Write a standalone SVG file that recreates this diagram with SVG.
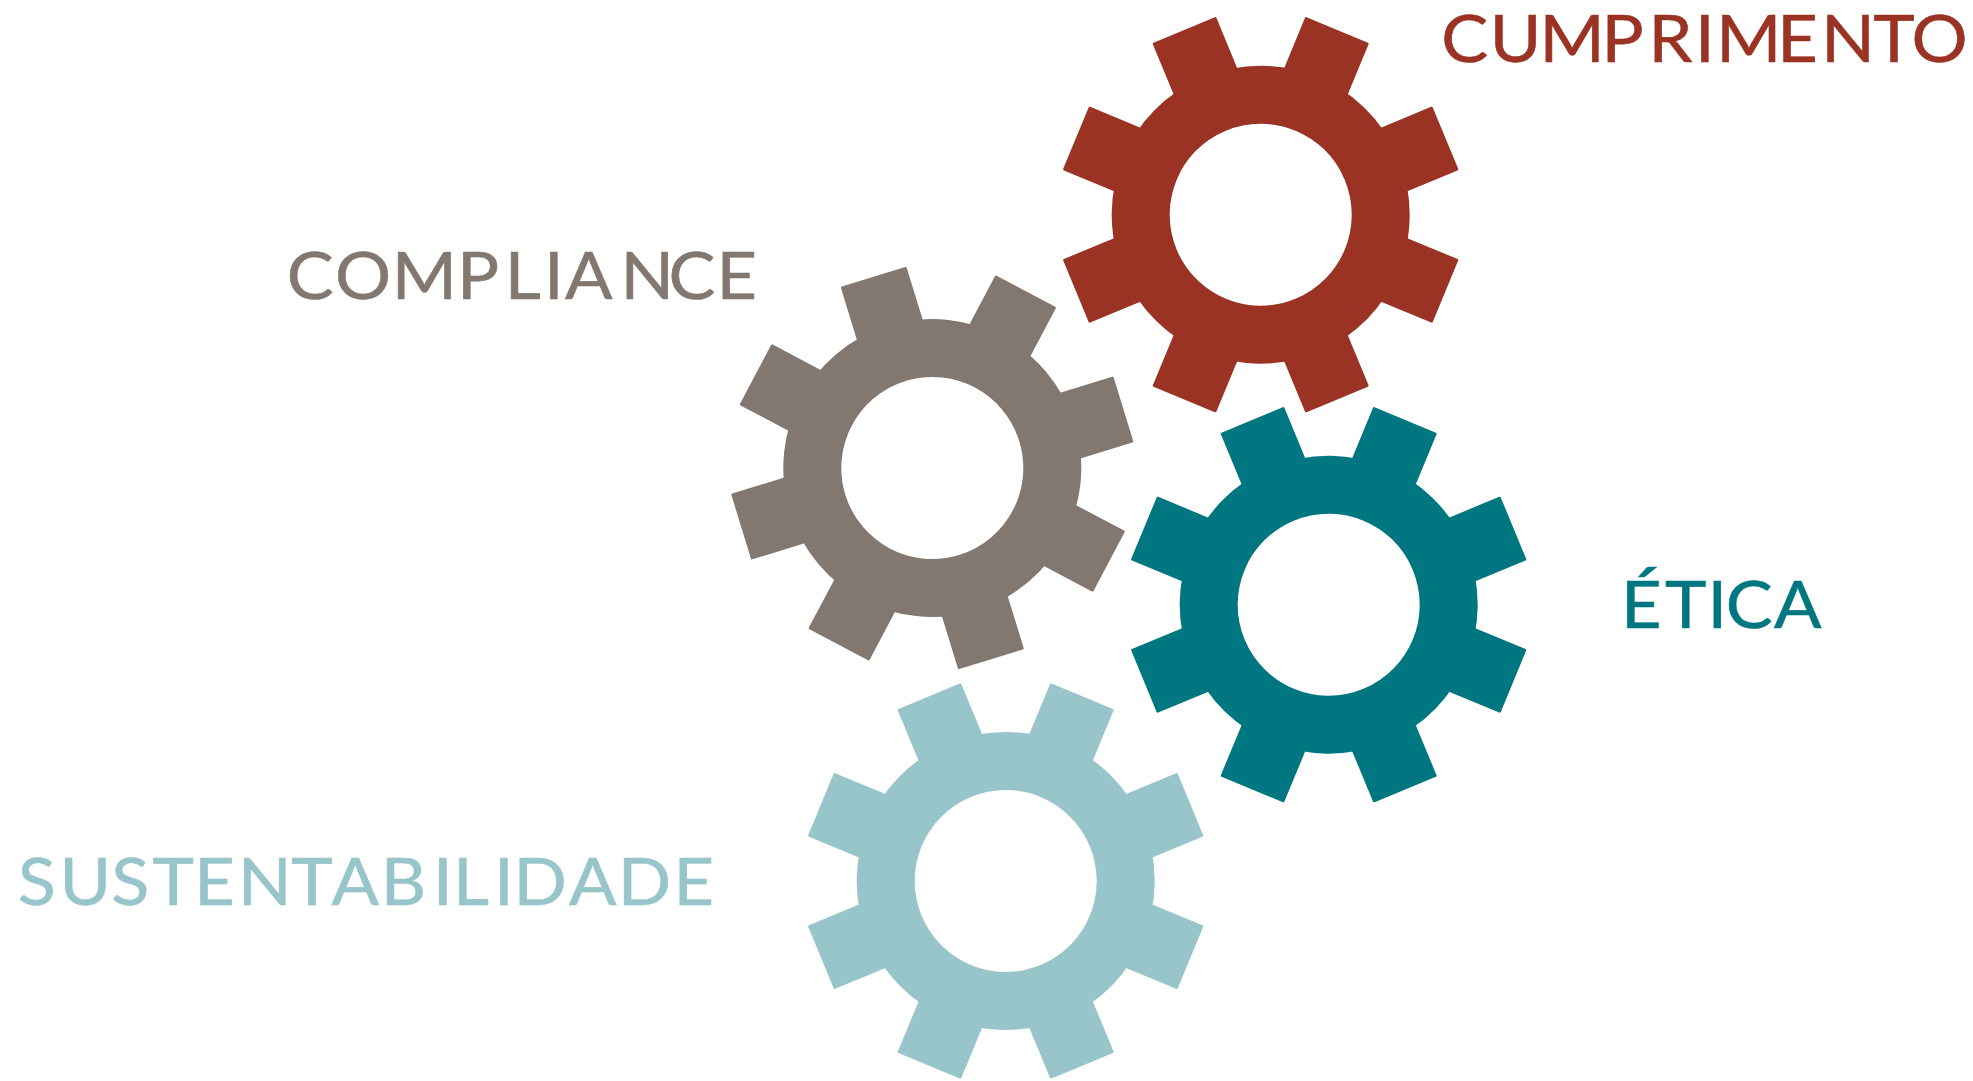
<svg xmlns="http://www.w3.org/2000/svg" xmlns:xlink="http://www.w3.org/1999/xlink" width="1973" height="1081" viewBox="0 0 1973 1081">
<style>
text{font-family:"Lato","Liberation Sans",sans-serif;font-size:65.6px;font-weight:400;stroke:currentColor;stroke-width:.6}
.ring{fill:none;stroke:currentColor;stroke-width:58}
.tooth{fill:currentColor}
.red{color:#9a3324;fill:#9a3324}
.gray{color:#83786f;fill:#83786f}
.teal{color:#007681;fill:#007681}
.light{color:#97c5c9;fill:#97c5c9}
</style>
<defs>
<rect id="tooth" class="tooth" x="-34.4" y="-200" width="68.8" height="62" rx="1.2"/>
<g id="gear">
<circle class="ring" r="120"/>
<use href="#tooth"/>
<use href="#tooth" transform="rotate(45)"/>
<use href="#tooth" transform="rotate(90)"/>
<use href="#tooth" transform="rotate(135)"/>
<use href="#tooth" transform="rotate(180)"/>
<use href="#tooth" transform="rotate(225)"/>
<use href="#tooth" transform="rotate(270)"/>
<use href="#tooth" transform="rotate(315)"/>
</g>
</defs>
<rect width="1973" height="1081" fill="#ffffff"/>
<g id="cumprimento" class="red">
<use href="#gear" transform="translate(1260.7 214.7) rotate(22.5)"/>
<text transform="scale(1.07 1)" x="1347 1392.2 1438.9 1496.8 1540.7 1584.2 1603.9 1661 1702.1 1750.6 1786.5" y="61.5">CUMPRIMENTO</text>
</g>
<g id="compliance" class="gray">
<use href="#gear" transform="translate(932.3 468) rotate(27.9)"/>
<text transform="scale(1.07 1)" x="268 313.2 366.2 427.1 471.7 508.5 528 579.9 624.8 669.7" y="298.7">COMPLIANCE</text>
</g>
<g id="etica" class="teal">
<use href="#gear" transform="translate(1328.7 604.7) rotate(22.5)"/>
<text transform="scale(1.07 1)" x="1515 1556 1595.8 1612.9 1657.9" y="628.3">ÉTICA</text>
</g>
<g id="sustentabilidade" class="light">
<use href="#gear" transform="translate(1005.7 881) rotate(22.5)"/>
<text transform="scale(1.07 1)" x="16.7 55.7 104 142.6 181.5 222.4 272.3 309.8 355.9 404.7 423.4 461.7 480 531.8 577.4 629.5" y="905.5">SUSTENTABILIDADE</text>
</g>
<g id="connectors"></g>
</svg>
